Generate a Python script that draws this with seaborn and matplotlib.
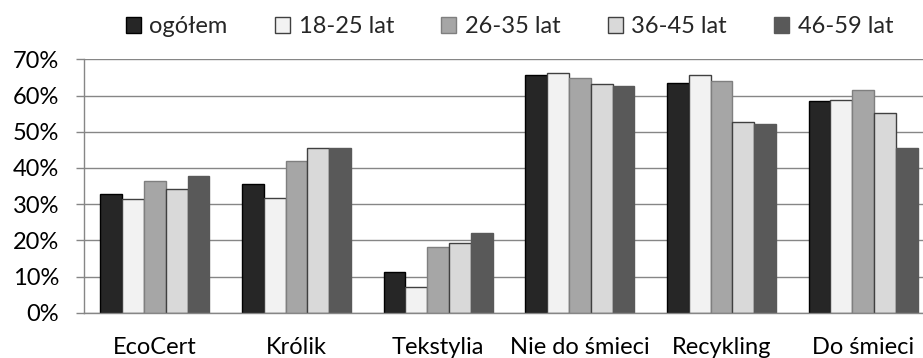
import numpy as np
import pandas as pd
import matplotlib
matplotlib.use("Agg")
import matplotlib.pyplot as plt
from matplotlib.patches import Patch
from matplotlib.ticker import FuncFormatter
import seaborn as sns

# Answer categories and age groups
categories = ["EcoCert", "Królik", "Tekstylia", "Nie do śmieci", "Recykling", "Do śmieci"]
groups = ["ogółem", "18-25 lat", "26-35 lat", "36-45 lat", "46-59 lat"]

# Share of respondents per category (fractions)
ogolem = [0.329, 0.356, 0.112, 0.657, 0.635, 0.585]
lat_18_25 = [0.315, 0.316, 0.071, 0.663, 0.657, 0.588]
lat_26_35 = [0.363, 0.418, 0.182, 0.648, 0.640, 0.616]
lat_36_45 = [0.342, 0.454, 0.193, 0.633, 0.527, 0.552]
lat_46_59 = [0.379, 0.455, 0.219, 0.625, 0.522, 0.456]

fills = ["#262626", "#f2f2f2", "#a6a6a6", "#d9d9d9", "#595959"]
edges = ["#000000", "#404040", "#7f7f7f", "#404040", "#595959"]
grid_col = "#868686"

series = [ogolem, lat_18_25, lat_26_35, lat_36_45, lat_46_59]
df = pd.DataFrame({
    "kategoria": np.tile(categories, len(groups)),
    "grupa": np.repeat(groups, len(categories)),
    "udział": np.concatenate(series),
})

sns.set_style("white")
plt.rcParams["font.family"] = ["Lato", "DejaVu Sans"]

fig = plt.figure(figsize=(9.23, 3.58), dpi=100)
ax = fig.add_axes([84 / 923, 1 - 312.7 / 358, (934 - 84) / 923, (312.7 - 59.3) / 358])

sns.barplot(data=df, x="kategoria", y="udział", hue="grupa", order=categories,
            hue_order=groups, palette=fills, saturation=1, width=5 / 6.5, gap=0,
            legend=False, ax=ax, errorbar=None)

for cont, ec in zip(ax.containers, edges):
    for bar in cont:
        bar.set_edgecolor(ec)
        bar.set_linewidth(1.0)

ax.set_axisbelow(True)
ax.set_ylim(0, 0.7)
ax.set_xlim(-0.5, len(categories) - 0.5)
ax.set_yticks(np.arange(0, 0.71, 0.1))
ax.yaxis.set_major_formatter(FuncFormatter(lambda v, _: f"{v * 100:.0f}%"))
ax.yaxis.grid(True, color=grid_col, lw=1.0)
ax.xaxis.grid(False)
for s in ["top", "right"]:
    ax.spines[s].set_visible(False)
for s in ["left", "bottom"]:
    ax.spines[s].set_color(grid_col)
    ax.spines[s].set_linewidth(1.0)

ax.set_xticks(np.arange(-0.5, len(categories), 1), minor=True)
ax.tick_params(axis="x", which="major", length=0, pad=17.5, labelsize=17, colors="black")
ax.tick_params(axis="x", which="minor", length=5.5, width=1.0, color=grid_col)
ax.tick_params(axis="y", which="major", length=6, width=1.0, color=grid_col,
               pad=12, labelsize=17, labelcolor="black", left=True)
ax.set_xlabel("")
ax.set_ylabel("")

handles = [Patch(facecolor=f, edgecolor=e, linewidth=1.0) for f, e in zip(fills, edges)]
fig.legend(handles, groups, loc="center", bbox_to_anchor=(509.5 / 923, 1 - 26.5 / 358),
           ncol=5, frameon=False, fontsize=17, handlelength=0.65, handleheight=0.65,
           handletextpad=0.35, columnspacing=2.0, borderaxespad=0, borderpad=0)

fig.savefig("out.png", dpi=100)
